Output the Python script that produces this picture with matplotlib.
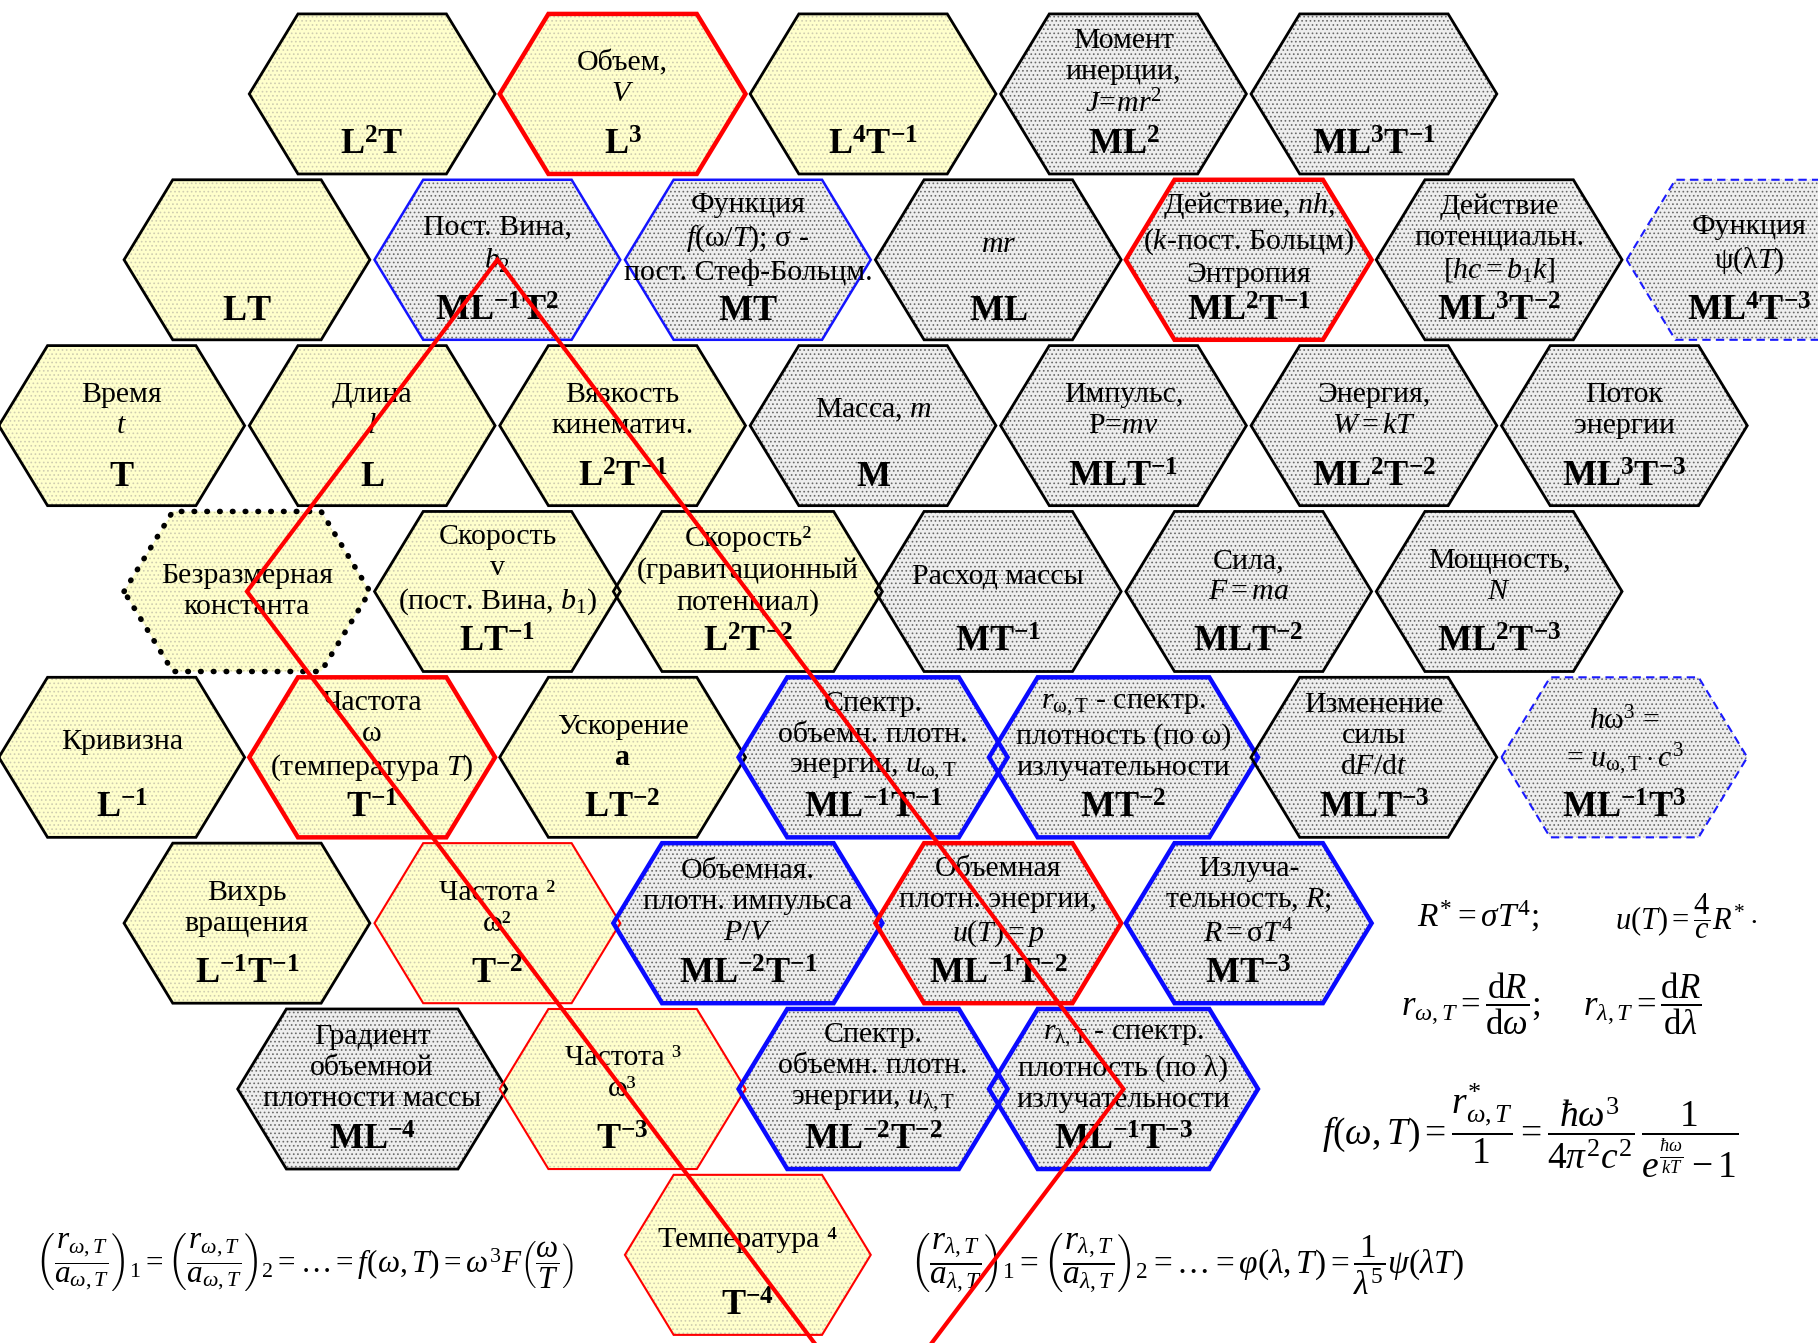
import numpy as np
import matplotlib.pyplot as plt
from matplotlib.patches import Polygon

plt.rcParams['font.family'] = ['Liberation Serif', 'DejaVu Serif']
plt.rcParams['mathtext.fontset'] = 'custom'
plt.rcParams['mathtext.rm'] = 'Liberation Serif'
plt.rcParams['mathtext.it'] = 'Liberation Serif:italic'
plt.rcParams['mathtext.bf'] = 'Liberation Serif:bold'
plt.rcParams['hatch.linewidth'] = 0.7

# ---------------- hexagon table: grid cell, texts, fill, border ----------------
hex_row = [0, 0, 0, 0, 0,
           1, 1, 1, 1, 1, 1, 1,
           2, 2, 2, 2, 2, 2, 2,
           3, 3, 3, 3, 3, 3,
           4, 4, 4, 4, 4, 4, 4,
           5, 5, 5, 5, 5,
           6, 6, 6, 6,
           7]
hex_slot = [2, 4, 6, 8, 10,
            1, 3, 5, 7, 9, 11, 13,
            0, 2, 4, 6, 8, 10, 12,
            1, 3, 5, 7, 9, 11,
            0, 2, 4, 6, 8, 10, 12,
            1, 3, 5, 7, 9,
            2, 4, 6, 8,
            5]
hex_label = [
    "", "Объем,\n$V$", "", "Момент\nинерции,\n$J\\!=\\!mr^2$", "",
    "", "Пост. Вина,\n$b_2$", "Функция\n$f(\\mathrm{\\omega}/T)$; σ -\nпост. Стеф-Больцм.", "$mr$",
    "Действие, $nh$,\n($k$-пост. Больцм)\nЭнтропия", "Действие\nпотенциальн.\n$[hc = b_1k]$", "Функция\nψ(λ$T$)",
    "Время\n$t$", "Длина\n$l$", "Вязкость\nкинематич.", "Масса, $m$", "Импульс,\nP=$mv$",
    "Энергия,\n$W = kT$", "Поток\nэнергии",
    "Безразмерная\nконстанта", "Скорость\nv\n(пост. Вина, $b_1$)", "Скорость²\n(гравитационный\nпотенциал)",
    "Расход массы", "Сила,\n$F = ma$", "Мощность,\n$N$",
    "Кривизна", "Частота\nω\n(температура $T$)", "Ускорение\n$\\mathbf{a}$",
    "Спектр.\nобъемн. плотн.\nэнергии, $u_{\\mathrm{\\omega,T}}$",
    "$r_{\\mathrm{\\omega,T}}$ - спектр.\nплотность (по ω)\nизлучательности",
    "Изменение\nсилы\nd$F$/d$t$", "$h\\mathrm{\\omega}^3$ =\n= $u_{\\mathrm{\\omega,T}}\\cdot c^3$",
    "Вихрь\nвращения", "Частота ²\nω²", "Объемная.\nплотн. импульса\n$P/V$",
    "Объемная\nплотн. энергии,\n$u(T) = p$", "Излуча-\nтельность, $R$;\n$R = \\mathrm{\\sigma}T^4$",
    "Градиент\nобъемной\nплотности массы", "Частота ³\nω³",
    "Спектр.\nобъемн. плотн.\nэнергии, $u_{\\mathrm{\\lambda,T}}$",
    "$r_{\\mathrm{\\lambda,T}}$ - спектр.\nплотность (по λ)\nизлучательности",
    "Температура ⁴",
]
hex_dim = [
    "L^2T", "L^3", "L^4T^{-1}", "ML^2", "ML^3T^{-1}",
    "LT", "ML^{-1}T^2", "MT", "ML", "ML^2T^{-1}", "ML^3T^{-2}", "ML^4T^{-3}",
    "T", "L", "L^2T^{-1}", "M", "MLT^{-1}", "ML^2T^{-2}", "ML^3T^{-3}",
    "", "LT^{-1}", "L^2T^{-2}", "MT^{-1}", "MLT^{-2}", "ML^2T^{-3}",
    "L^{-1}", "T^{-1}", "LT^{-2}", "ML^{-1}T^{-1}", "MT^{-2}", "MLT^{-3}", "ML^{-1}T^3",
    "L^{-1}T^{-1}", "T^{-2}", "ML^{-2}T^{-1}", "ML^{-1}T^{-2}", "MT^{-3}",
    "ML^{-4}", "T^{-3}", "ML^{-2}T^{-2}", "ML^{-1}T^{-3}",
    "T^{-4}",
]
# y = yellow (geometric), g = grey (with mass)
hex_fill = list("yyygg" + "ygggggg" + "yyygggg" + "yyyggg" + "yyygggg" + "yyggg" + "gygg" + "y")
# k black, r red bold, rt red thin, b blue, bt blue bold, bd blue dashed, kd black dotted
hex_edge = ['k', 'r', 'k', 'k', 'k',
            'k', 'b', 'b', 'k', 'r', 'k', 'bd',
            'k', 'k', 'k', 'k', 'k', 'k', 'k',
            'kd', 'k', 'k', 'k', 'k', 'k',
            'k', 'r', 'k', 'bt', 'bt', 'k', 'bd',
            'k', 'rt', 'bt', 'r', 'bt',
            'k', 'rt', 'bt', 'bt',
            'rt']
wide_cells = [(3, 5), (6, 2), (5, 5), (4, 6), (4, 8), (6, 8), (6, 6)]

# red zig-zag through the hexagons (grid cells)
zig_cells = [(7, 5), (6, 4), (5, 3), (4, 2), (3, 1), (2, 2), (1, 3),
             (2, 4), (3, 5), (4, 6), (5, 7), (6, 8)]

# formulas
formula_1 = [r"$R^{*} = \sigma T^{4};$", r"$u(T) = \dfrac{4}{c}R^{*}\cdot$"]
formula_2 = [r"$r_{\omega,T} = \dfrac{\mathrm{d}R}{\mathrm{d}\omega};$",
             r"$r_{\lambda,T} = \dfrac{\mathrm{d}R}{\mathrm{d}\lambda}$"]
formula_3 = (r"$f(\omega,T) = \dfrac{r^{*}_{\omega,T}}{1} = \dfrac{\hbar\omega^{3}}{4\pi^{2}c^{2}}\,"
             r"\dfrac{1}{e^{\frac{\hbar\omega}{kT}}-1}$")
formula_4 = (r"$\left(\dfrac{r_{\omega,T}}{a_{\omega,T}}\right)_1 = \left(\dfrac{r_{\omega,T}}{a_{\omega,T}}\right)_2"
             r" = \ldots = f(\omega,T) = \omega^{3}F\left(\dfrac{\omega}{T}\right)$")
formula_5 = (r"$\left(\dfrac{r_{\lambda,T}}{a_{\lambda,T}}\right)_1 = \left(\dfrac{r_{\lambda,T}}{a_{\lambda,T}}\right)_2"
             r" = \ldots = \varphi(\lambda,T) = \dfrac{1}{\lambda^{5}}\psi(\lambda T)$")

# ---------------- drawing ----------------
W, H = 1568, 1158
X0, DX, Y0, DY = 105, 108, 81, 143


def cell_xy(r, s):
    return X0 + DX * s, Y0 + DY * r


edge_styles = {
    'k': dict(edgecolor='black', lw=2.0, ls='-'),
    'r': dict(edgecolor='#ff0000', lw=3.2, ls='-'),
    'rt': dict(edgecolor='#ff0000', lw=1.5, ls='-'),
    'b': dict(edgecolor='#1414ff', lw=1.8, ls='-'),
    'bt': dict(edgecolor='#0a0aff', lw=3.2, ls='-'),
    'bd': dict(edgecolor='#1a1aff', lw=1.5, ls=(0, (4, 2.5))),
    'kd': dict(edgecolor='black', lw=4.0, ls=(0, (0.1, 2.2))),
}
fill_styles = {
    'y': dict(facecolor='#ffffcc', edgecolor='#cfcdb0'),
    'g': dict(facecolor='#eeeeee', edgecolor='#6a6a6a'),
}

fig = plt.figure(figsize=(18.18, 13.43), dpi=100)
ax = fig.add_axes([0, 0, 1, 1])
ax.set_xlim(0, W)
ax.set_ylim(H, 0)
ax.axis('off')

for i in range(len(hex_row)):
    r, s = hex_row[i], hex_slot[i]
    cx, cy = cell_xy(r, s)
    w = 116 if (r, s) in wide_cells else 106
    a, h = w - 42, 69
    pts = [(cx - w, cy), (cx - a, cy - h), (cx + a, cy - h),
           (cx + w, cy), (cx + a, cy + h), (cx - a, cy + h)]
    fs = fill_styles[hex_fill[i]]
    ax.add_patch(Polygon(pts, closed=True, facecolor=fs['facecolor'],
                         edgecolor=fs['edgecolor'], hatch='....', lw=0, zorder=1))
    es = edge_styles[hex_edge[i]]
    p = Polygon(pts, closed=True, fill=False, edgecolor=es['edgecolor'],
                lw=es['lw'], linestyle=es['ls'], zorder=2, joinstyle='miter')
    if hex_edge[i] == 'kd':
        p.set_capstyle('round')
    ax.add_patch(p)

    lab, dim = hex_label[i], hex_dim[i]
    if lab:
        nl = lab.count("\n") + 1
        ly = (cy - 18 if nl >= 3 else cy - 13) if dim else cy
        ax.text(cx, ly, lab, ha='center', va='center', fontsize=21.5,
                linespacing=1.25, zorder=3)
    if dim:
        ax.text(cx, cy + 45, "$\\mathbf{" + dim + "}$", ha='center', va='center',
                fontsize=26, zorder=3)

# zig-zag line
zx, zy = zip(*[cell_xy(r, s) for r, s in zig_cells])
zx, zy = list(zx), list(zy)
d1 = ((zx[0] - zx[1]) / (zy[0] - zy[1]))
d2 = ((zx[5] - zx[6]) / (zy[5] - zy[6]))
zx = [zx[0] + (H - zy[0]) * d1] + zx + [zx[-1] + (H - zy[-1]) * d2]
zy = [H] + zy + [H]
ax.plot(zx, zy, color='#ff0000', lw=3.0, zorder=5, solid_joinstyle='miter')

# formulas
ax.text(1222, 790, formula_1[0], ha='left', va='center', fontsize=24)
ax.text(1393, 790, formula_1[1], ha='left', va='center', fontsize=22)
ax.text(1208, 865, formula_2[0], ha='left', va='center', fontsize=25)
ax.text(1365, 865, formula_2[1], ha='left', va='center', fontsize=25)
ax.text(1140, 975, formula_3, ha='left', va='center', fontsize=27)
ax.text(30, 1088, formula_4, ha='left', va='center', fontsize=22.5)
ax.text(785, 1090, formula_5, ha='left', va='center', fontsize=24)

fig.savefig('out.png', dpi=100)
